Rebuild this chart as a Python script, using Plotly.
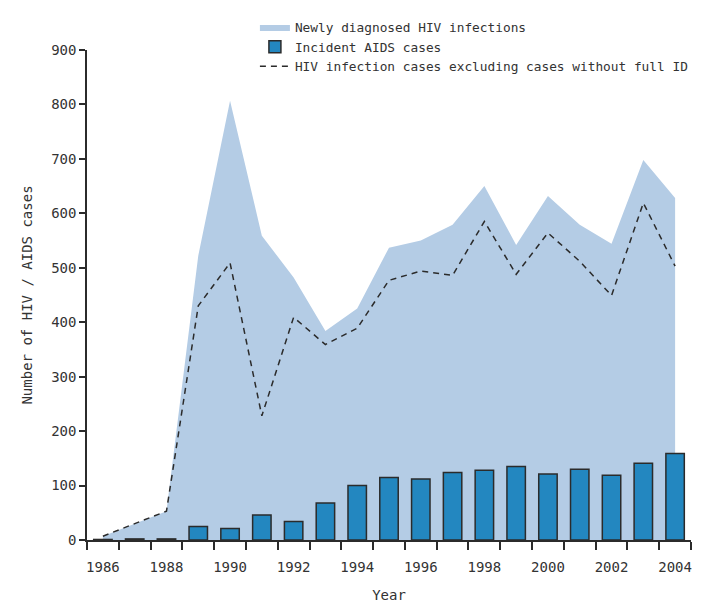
"""
HIV / AIDS cases by year: newly diagnosed infections (area), incident AIDS cases (bars)
and infections excluding cases without full ID (dashed line).
"""

import plotly.graph_objects as go

YEARS = list(range(1986, 2005))

NEW_HIV = [7, 30, 53, 522, 807, 559, 482, 384, 425, 537, 550, 579, 650, 542, 632, 579, 544, 698, 628]
AIDS_CASES = [1, 2, 2, 25, 21, 46, 34, 68, 100, 115, 112, 124, 128, 135, 121, 130, 119, 141, 159]
HIV_FULL_ID = [7, 30, 53, 430, 509, 228, 409, 359, 389, 477, 494, 486, 585, 488, 564, 512, 449, 619, 503]

TICK_YEARS = list(range(1986, 2005, 2))

AREA_COLOR = "#b4cce5"
BAR_COLOR = "#2387c0"
INK = "#2b2b2b"
TEXT = "#333333"
FONT = "DejaVu Sans Mono, Liberation Mono, monospace"
Y_RANGE = [0, 900]

fig = go.Figure()

# area sits on the base y axis; bars and dashed line use an overlaid y axis so they draw on top
fig.add_trace(go.Scatter(
    x=YEARS,
    y=NEW_HIV,
    name="Newly diagnosed HIV infections",
    mode="lines",
    fill="tozeroy",
    fillcolor=AREA_COLOR,
    line=dict(color=AREA_COLOR, width=0),
))

fig.add_trace(go.Bar(
    x=YEARS,
    y=AIDS_CASES,
    name="Incident AIDS cases",
    width=0.58,
    marker=dict(color=BAR_COLOR, line=dict(color=INK, width=1.5)),
    yaxis="y2",
))

fig.add_trace(go.Scatter(
    x=YEARS,
    y=HIV_FULL_ID,
    name="HIV infection cases excluding cases without full ID",
    mode="lines",
    line=dict(color=INK, width=1.5, dash="6px,5px"),
    yaxis="y2",
))

fig.update_layout(
    width=706,
    height=603,
    paper_bgcolor="white",
    plot_bgcolor="white",
    font=dict(family=FONT, size=13, color=TEXT),
    margin=dict(l=87, r=15, t=45, b=63),
    showlegend=True,
    legend=dict(
        x=0.278, y=1.077, xanchor="left", yanchor="top",
        bgcolor="rgba(0,0,0,0)", tracegroupgap=0, borderwidth=0,
        font=dict(family=FONT, size=12.8, color=TEXT),
    ),
    xaxis=dict(
        range=[1985.5, 2004.5],
        tickmode="array",
        tickvals=TICK_YEARS,
        ticktext=[str(y) for y in TICK_YEARS],
        ticks="outside",
        ticklen=13,
        tickcolor="rgba(0,0,0,0)",
        tickfont=dict(size=14),
        minor=dict(
            tickmode="linear", tick0=1985.5, dtick=1,
            ticks="outside", ticklen=8, tickwidth=1.5, tickcolor=INK,
        ),
        showline=True, linecolor=INK, linewidth=1.5,
        showgrid=False, zeroline=False, automargin=False,
        title=dict(text="Year", standoff=18, font=dict(size=14)),
    ),
    yaxis=dict(
        range=Y_RANGE,
        tickmode="linear", tick0=0, dtick=100,
        ticks="outside", ticklen=6, tickwidth=1.5, tickcolor=INK,
        tickfont=dict(size=14),
        showline=True, linecolor=INK, linewidth=1.5,
        showgrid=False, zeroline=False, automargin=False,
        title=dict(text="Number of HIV / AIDS cases", standoff=15, font=dict(size=14)),
    ),
    yaxis2=dict(range=Y_RANGE, overlaying="y", side="left", visible=False),
)

# drop the default page margin so the figure sits at the window's top-left corner
fig.write_html(
    "out.html",
    config={"displayModeBar": False},
    post_script="document.body.style.margin='0';",
)
